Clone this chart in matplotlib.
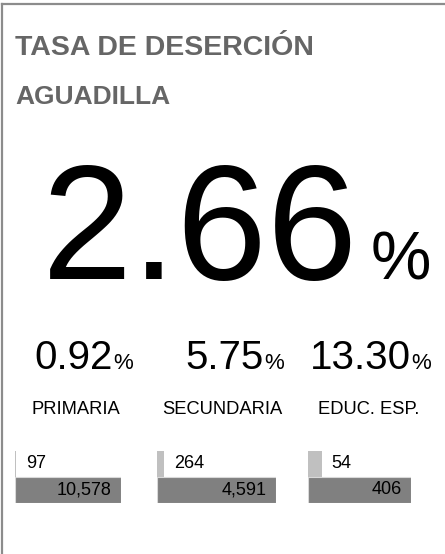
import matplotlib
matplotlib.use("Agg")
import matplotlib.pyplot as plt
from matplotlib.lines import Line2D

plt.rcParams['font.family'] = ['Liberation Sans', 'DejaVu Sans']

title = "TASA DE DESERCIÓN"
subtitle = "AGUADILLA"
total_rate = "2.66"
categories = ["PRIMARIA", "SECUNDARIA", "EDUC. ESP."]
rates = ["0.92", "5.75", "13.30"]
dropouts = [97, 264, 54]
enrollment = [10578, 4591, 406]

W, H = 445, 554
fig = plt.figure(figsize=(W / 100, H / 100), dpi=100)
fig.patch.set_facecolor("white")

def fx(x):
    return x / W

def fy(y):
    return 1 - y / H

# frame (left + top)
fig.add_artist(Line2D([fx(2), fx(2)], [fy(4), 0], color="#8c8c8c", lw=1.6))
fig.add_artist(Line2D([fx(2), 1], [fy(4), fy(4)], color="#8c8c8c", lw=1.6))

gray = "#666666"
fig.text(fx(15), fy(55), title, fontsize=20.5, fontweight="bold", color=gray, ha="left", va="baseline")
fig.text(fx(15), fy(104), subtitle, fontsize=19, fontweight="bold", color=gray, ha="left", va="baseline")

fig.text(fx(358), fy(279), total_rate, fontsize=117, color="black", ha="right", va="baseline")
fig.text(fx(371), fy(279), "%", fontsize=49, color="black", ha="left", va="baseline")

val_right = [112, 263, 410]
centers = [76, 222, 369]
for i, cat in enumerate(categories):
    fig.text(fx(val_right[i] + 1), fy(369), rates[i], fontsize=29, color="black", ha="right", va="baseline")
    fig.text(fx(val_right[i] + 1), fy(369), "%", fontsize=16, color="black", ha="left", va="baseline")
    fig.text(fx(centers[i]), fy(414), cat, fontsize=13.2, color="black", ha="center", va="baseline")

bar_left = [15, 157, 308]
bar_width = [106, 119, 103]
for i in range(3):
    ax = fig.add_axes([fx(bar_left[i]), fy(503), bar_width[i] / W, 52 / H])
    ax.barh([1], [dropouts[i]], height=1, color="#c0c0c0", left=0)
    ax.barh([0], [enrollment[i]], height=1, color="#808080", edgecolor="#d9d9d9", lw=0.8)
    ax.set_xlim(0, enrollment[i])
    ax.set_ylim(-0.5, 1.5)
    ax.axis("off")
    ax.annotate(f"{dropouts[i]}", xy=(dropouts[i], 1), xytext=(10, 0), textcoords="offset pixels",
                ha="left", va="center", fontsize=13, color="black")
    ax.annotate(f"{enrollment[i]:,}", xy=(enrollment[i], 0), xytext=(-9, 0), textcoords="offset pixels",
                ha="right", va="center", fontsize=13, color="black")

fig.savefig("out.png", dpi=100, facecolor="white")
